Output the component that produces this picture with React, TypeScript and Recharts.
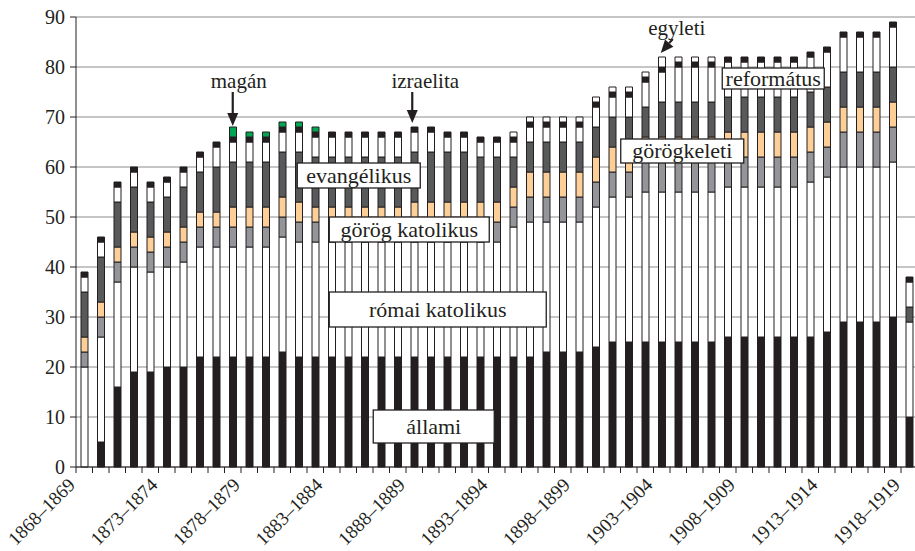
import React from "react";
import { Bar, BarChart, CartesianGrid, ReferenceDot, XAxis, YAxis } from "recharts";

const years = [
  "1868–1869", "1869–1870", "1870–1871", "1871–1872", "1872–1873",
  "1873–1874", "1874–1875", "1875–1876", "1876–1877", "1877–1878",
  "1878–1879", "1879–1880", "1880–1881", "1881–1882", "1882–1883",
  "1883–1884", "1884–1885", "1885–1886", "1886–1887", "1887–1888",
  "1888–1889", "1889–1890", "1890–1891", "1891–1892", "1892–1893",
  "1893–1894", "1894–1895", "1895–1896", "1896–1897", "1897–1898",
  "1898–1899", "1899–1900", "1900–1901", "1901–1902", "1902–1903",
  "1903–1904", "1904–1905", "1905–1906", "1906–1907", "1907–1908",
  "1908–1909", "1909–1910", "1910–1911", "1911–1912", "1912–1913",
  "1913–1914", "1914–1915", "1915–1916", "1916–1917", "1917–1918",
  "1918–1919",
];

const shownYears = [
  "1868–1869", "1873–1874", "1878–1879", "1883–1884", "1888–1889", "1893–1894",
  "1898–1899", "1903–1904", "1908–1909", "1913–1914", "1918–1919",
];

const yTicks = [0, 10, 20, 30, 40, 50, 60, 70, 80, 90];

const allami = [
  0, 5, 16, 19, 19, 20, 20, 22, 22, 22, 22, 22, 23, 22, 22, 22, 22, 22, 22, 22,
  22, 22, 22, 22, 22, 22, 22, 22, 23, 23, 23, 24, 25, 25, 25, 25, 25, 25, 25, 26,
  26, 26, 26, 26, 26, 27, 29, 29, 29, 30, 10,
];
const romaiKatolikus = [
  20, 21, 21, 21, 20, 20, 21, 22, 22, 22, 22, 22, 23, 23, 23, 23, 23, 23, 23, 23,
  23, 23, 23, 23, 23, 23, 26, 27, 26, 26, 26, 28, 29, 29, 30, 30, 30, 30, 30, 30,
  30, 30, 30, 30, 31, 31, 31, 31, 31, 31, 19,
];
const gorogKatolikus = [
  3, 4, 4, 4, 4, 4, 4, 4, 4, 4, 4, 4, 4, 4, 4, 4, 4, 4, 4, 4,
  4, 4, 4, 4, 4, 4, 4, 5, 5, 5, 5, 5, 5, 5, 6, 6, 6, 6, 6, 6,
  6, 6, 6, 6, 6, 6, 7, 7, 7, 7, 0,
];
const gorogkeleti = [
  3, 3, 3, 3, 3, 3, 3, 3, 3, 4, 4, 4, 4, 4, 3, 3, 3, 3, 3, 3,
  4, 4, 4, 4, 4, 4, 4, 5, 5, 5, 5, 5, 5, 5, 5, 5, 5, 5, 5, 5,
  5, 5, 5, 5, 5, 5, 5, 5, 5, 5, 0,
];
const evangelikus = [
  9, 9, 9, 9, 7, 7, 8, 8, 9, 9, 9, 9, 9, 10, 10, 10, 10, 10, 10, 10,
  10, 10, 10, 10, 9, 9, 6, 6, 6, 6, 6, 6, 6, 6, 6, 7, 7, 7, 7, 7,
  7, 7, 7, 7, 7, 7, 7, 7, 7, 7, 3,
];
const reformatus = [
  3, 3, 3, 3, 3, 3, 3, 3, 4, 4, 4, 4, 4, 4, 4, 4, 4, 4, 4, 4,
  4, 4, 3, 3, 3, 3, 3, 3, 3, 3, 3, 4, 4, 4, 5, 6, 7, 7, 7, 7,
  7, 7, 7, 7, 7, 7, 7, 7, 7, 8, 5,
];
const izraelita = [
  1, 1, 1, 1, 1, 1, 1, 1, 1, 1, 1, 1, 1, 1, 1, 1, 1, 1, 1, 1,
  1, 1, 1, 1, 1, 1, 1, 1, 1, 1, 1, 1, 1, 1, 1, 1, 1, 1, 1, 1,
  1, 1, 1, 1, 1, 1, 1, 1, 1, 1, 1,
];
const magan = [
  0, 0, 0, 0, 0, 0, 0, 0, 0, 2, 1, 1, 1, 1, 1, 0, 0, 0, 0, 0,
  0, 0, 0, 0, 0, 0, 0, 0, 0, 0, 0, 0, 0, 0, 0, 0, 0, 0, 0, 0,
  0, 0, 0, 0, 0, 0, 0, 0, 0, 0, 0,
];
const egyleti = [
  0, 0, 0, 0, 0, 0, 0, 0, 0, 0, 0, 0, 0, 0, 0, 0, 0, 0, 0, 0,
  0, 0, 0, 0, 0, 0, 1, 1, 1, 1, 1, 1, 1, 1, 1, 2, 1, 1, 1, 0,
  0, 0, 0, 0, 0, 0, 0, 0, 0, 0, 0,
];

const INK = "#231f20";
const FONT = "Liberation Serif, DejaVu Serif, serif";
const BAND = 16.5;

const series = [
  { key: "allami", fill: INK },
  { key: "romaiKatolikus", fill: "#ffffff" },
  { key: "gorogKatolikus", fill: "#939598" },
  { key: "gorogkeleti", fill: "#fdcf98" },
  { key: "evangelikus", fill: "#58595b" },
  { key: "reformatus", fill: "#ffffff" },
  { key: "izraelita", fill: INK },
  { key: "magan", fill: "#00a651" },
  { key: "egyleti", fill: "#ffffff" },
];

const data = years.map((year, i) => ({
  year,
  allami: allami[i],
  romaiKatolikus: romaiKatolikus[i],
  gorogKatolikus: gorogKatolikus[i],
  gorogkeleti: gorogkeleti[i],
  evangelikus: evangelikus[i],
  reformatus: reformatus[i],
  izraelita: izraelita[i],
  magan: magan[i],
  egyleti: egyleti[i],
}));

const total = (i: number) => series.reduce((s, d) => s + (data[i] as any)[d.key], 0);

// boxed labels, anchored on a category + value
const boxes = [
  { text: "evangélikus", year: years[17], value: 58.3, dx: -6, w: 123, h: 25 },
  { text: "görög katolikus", year: years[20], value: 47.5, dx: -5, w: 160, h: 25 },
  { text: "római katolikus", year: years[21], value: 31.5, dx: 7, w: 217, h: 35 },
  { text: "állami", year: years[21], value: 8.1, dx: 3, w: 121, h: 33 },
  { text: "görögkeleti", year: years[36], value: 63.2, dx: 4, w: 123, h: 24 },
  { text: "református", year: years[42], value: 77.7, dx: -4, w: 102, h: 21 },
];

// arrow labels pointing at bar tops
const arrows = [
  { text: "magán", idx: 9, textDx: 6, tail: [0, -35], tip: [0, -1] },
  { text: "izraelita", idx: 20, textDx: 11, tail: [-2, -35], tip: [-2, -4] },
  { text: "egyleti", idx: 35, textDx: 15, tail: [11, -18], tip: [-1, -4] },
];

const txt = { fontFamily: FONT, fill: INK };

function boxLabel(text: string, w: number, h: number, dx: number) {
  return (props: any) => {
    const vb = props.viewBox;
    const cx = vb.x + vb.width / 2 + dx;
    const cy = vb.y + vb.height / 2;
    return (
      <g>
        <rect x={cx - w / 2} y={cy - h / 2} width={w} height={h} fill="#fff" stroke={INK} strokeWidth={1.3} />
        <text x={cx} y={cy + 7} textAnchor="middle" fontSize={22} style={txt}>
          {text}
        </text>
      </g>
    );
  };
}

function arrowLabel(text: string, textDx: number, tail: number[], tip: number[]) {
  return (props: any) => {
    const vb = props.viewBox;
    const cx = vb.x + vb.width / 2;
    const cy = vb.y + vb.height / 2;
    const x1 = cx + tail[0], y1 = cy + tail[1];
    const x2 = cx + tip[0], y2 = cy + tip[1];
    const len = Math.hypot(x2 - x1, y2 - y1);
    const ux = (x2 - x1) / len, uy = (y2 - y1) / len;
    const bx = x2 - ux * 13, by = y2 - uy * 13;
    const head = `${x2},${y2} ${bx - uy * 5.5},${by + ux * 5.5} ${bx + uy * 5.5},${by - ux * 5.5}`;
    return (
      <g>
        <line x1={x1} y1={y1} x2={bx} y2={by} stroke={INK} strokeWidth={2.2} />
        <polygon points={head} fill={INK} />
        <text x={cx + textDx} y={y1 - 4} textAnchor="middle" fontSize={21} style={txt}>
          {text}
        </text>
      </g>
    );
  };
}

function YearTick(props: any) {
  const { x, y, payload, index } = props;
  const show = shownYears.includes(payload.value);
  const tx = x - 8;
  const ty = y + 19;
  return (
    <g>
      <line x1={x - BAND / 2} y1={y} x2={x - BAND / 2} y2={y + 6} stroke={INK} />
      {index === years.length - 1 && (
        <line x1={x + BAND / 2} y1={y} x2={x + BAND / 2} y2={y + 6} stroke={INK} />
      )}
      {show && (
        <text
          x={tx}
          y={ty}
          transform={`rotate(-45 ${tx} ${ty})`}
          textAnchor="end"
          fontSize={19}
          style={txt}
        >
          {payload.value}
        </text>
      )}
    </g>
  );
}

function ValueTick(props: any) {
  const { x, y, payload } = props;
  return (
    <text x={x} y={y + 7} textAnchor="end" fontSize={20} style={txt}>
      {payload.value}
    </text>
  );
}

export default function App() {
  return (
    <div style={{ width: 925, height: 551, background: "#fff" }}>
      <style>{"body{margin:0;overflow:hidden;background:#fff}"}</style>
      <BarChart
        width={925}
        height={551}
        data={data}
        margin={{ top: 17, right: 7.5, bottom: 0, left: 0 }}
        barSize={7}
      >
        <CartesianGrid vertical={false} stroke="#8c8c8c" strokeWidth={1} />
        <XAxis
          dataKey="year"
          interval={0}
          height={84}
          tickLine={false}
          tickSize={0}
          tickMargin={0}
          axisLine={{ stroke: INK }}
          tick={<YearTick />}
        />
        <YAxis
          width={76}
          domain={[0, 90]}
          ticks={yTicks}
          tickSize={6}
          tickMargin={5}
          axisLine={{ stroke: INK }}
          tickLine={{ stroke: INK }}
          tick={<ValueTick />}
        />
        {series.map((s) => (
          <Bar
            key={s.key}
            dataKey={s.key}
            stackId="s"
            fill={s.fill}
            stroke={INK}
            strokeWidth={1}
            isAnimationActive={false}
          />
        ))}
        {boxes.map((b) => (
          <ReferenceDot
            key={b.text}
            x={b.year}
            y={b.value}
            r={1}
            fill="none"
            stroke="none"
            label={boxLabel(b.text, b.w, b.h, b.dx)}
          />
        ))}
        {arrows.map((a) => (
          <ReferenceDot
            key={a.text}
            x={years[a.idx]}
            y={total(a.idx)}
            r={1}
            fill="none"
            stroke="none"
            label={arrowLabel(a.text, a.textDx, a.tail, a.tip)}
          />
        ))}
      </BarChart>
    </div>
  );
}
